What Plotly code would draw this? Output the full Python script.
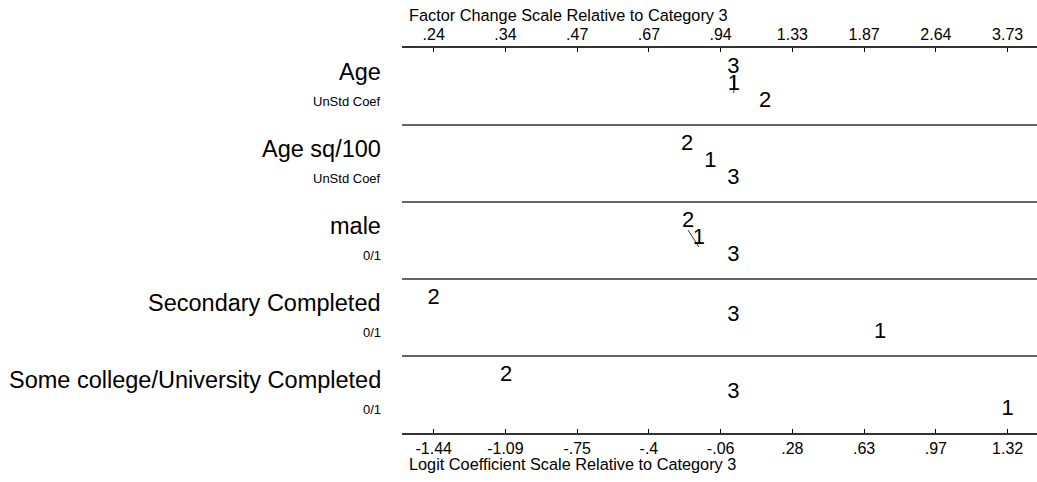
import numpy as np
import plotly.graph_objects as go

# variables (top to bottom) and their unit descriptions
variables = ["Age", "Age sq/100", "male", "Secondary Completed",
             "Some college/University Completed"]
units = ["UnStd Coef", "UnStd Coef", "0/1", "0/1", "0/1"]

# logit coefficients relative to category 3
cat1 = [0.003, -0.110, -0.165, 0.705, 1.316]
cat2 = [0.153, -0.221, -0.217, -1.437, -1.089]
cat3 = [0.0, 0.0, 0.0, 0.0, 0.0]

# pairs not significantly different (joined by a line)
links = [(0, "1", "3"), (2, "2", "1")]

bottom_ticktext = ["-1.44", "-1.09", "-.75", "-.4", "-.06", ".28", ".63", ".97", "1.32"]
top_ticktext = [".24", ".34", ".47", ".67", ".94", "1.33", "1.87", "2.64", "3.73"]

FONT = "Liberation Sans, Arial, sans-serif"
slots = [19 / 77, 36 / 77, 53 / 77]

allvals = np.array([cat1, cat2, cat3])
tickvals = np.linspace(allvals.min(), allvals.max(), len(bottom_ticktext))
xr = [-1.589, 1.457]

fig = go.Figure()

pos = {}
for i in range(len(variables)):
    vals = {"1": cat1[i], "2": cat2[i], "3": cat3[i]}
    order = sorted(vals, key=lambda k: vals[k])
    for r, k in enumerate(order):
        pos[(i, k)] = (vals[k], i + slots[r])

# significance link lines
for i, a, b in links:
    xa, ya = pos[(i, a)]
    xb, yb = pos[(i, b)]
    fig.add_trace(go.Scatter(
        x=[xa, xb], y=[ya + 9 / 77, yb + 9 / 77], mode="lines",
        line=dict(color="black", width=0.8), showlegend=False, hoverinfo="skip"))

for k in ["1", "2", "3"]:
    xs = [pos[(i, k)][0] for i in range(len(variables))]
    ys = [pos[(i, k)][1] for i in range(len(variables))]
    fig.add_trace(go.Scatter(
        x=xs, y=ys, mode="text", text=[k] * len(xs),
        textposition="middle center",
        textfont=dict(family=FONT, size=22, color="black"),
        showlegend=False, hoverinfo="skip"))

# invisible trace to activate top axis
fig.add_trace(go.Scatter(x=[tickvals[0]], y=[0], xaxis="x2", mode="markers",
                         marker=dict(opacity=0), showlegend=False, hoverinfo="skip"))

# panel separators
for i in range(1, len(variables)):
    fig.add_shape(type="line", xref="paper", x0=0, x1=1, yref="y", y0=i, y1=i,
                  line=dict(color="#333333", width=1.5))

for i, (v, u) in enumerate(zip(variables, units)):
    fig.add_annotation(text=v, xref="paper", x=0, xanchor="right", xshift=-19,
                       yref="y", y=i + 24 / 77, yanchor="middle", showarrow=False,
                       font=dict(family=FONT, size=23.5, color="black"))
    fig.add_annotation(text=u, xref="paper", x=0, xanchor="right", xshift=-19,
                       yref="y", y=i + 53 / 77, yanchor="middle", showarrow=False,
                       font=dict(family=FONT, size=13, color="black"))

fig.add_annotation(text="Factor Change Scale Relative to Category 3", xref="paper",
                   x=0, xshift=5, xanchor="left", yref="paper", y=1, yshift=33,
                   yanchor="middle", showarrow=False,
                   font=dict(family=FONT, size=16.3, color="black"))
fig.add_annotation(text="Logit Coefficient Scale Relative to Category 3", xref="paper",
                   x=0, xshift=5, xanchor="left", yref="paper", y=0, yshift=-31,
                   yanchor="middle", showarrow=False,
                   font=dict(family=FONT, size=16.3, color="black"))

axis_common = dict(range=xr, tickvals=tickvals, ticks="inside", ticklen=4,
                   tickcolor="black", showline=True, linecolor="#333333", linewidth=1.5,
                   showgrid=False, zeroline=False,
                   tickfont=dict(family=FONT, size=16, color="black"))

fig.update_layout(
    width=1037, height=482,
    margin=dict(l=402, r=0, t=48, b=49),
    plot_bgcolor="white", paper_bgcolor="white",
    xaxis=dict(ticktext=bottom_ticktext, side="bottom", **axis_common),
    xaxis2=dict(ticktext=top_ticktext, side="top", overlaying="x", **axis_common),
    yaxis=dict(range=[5, 0], visible=False),
)

fig.write_html("out.html", config={"displayModeBar": False},
               post_script="document.body.style.margin='0';"
               "document.body.style.overflow='hidden';")
